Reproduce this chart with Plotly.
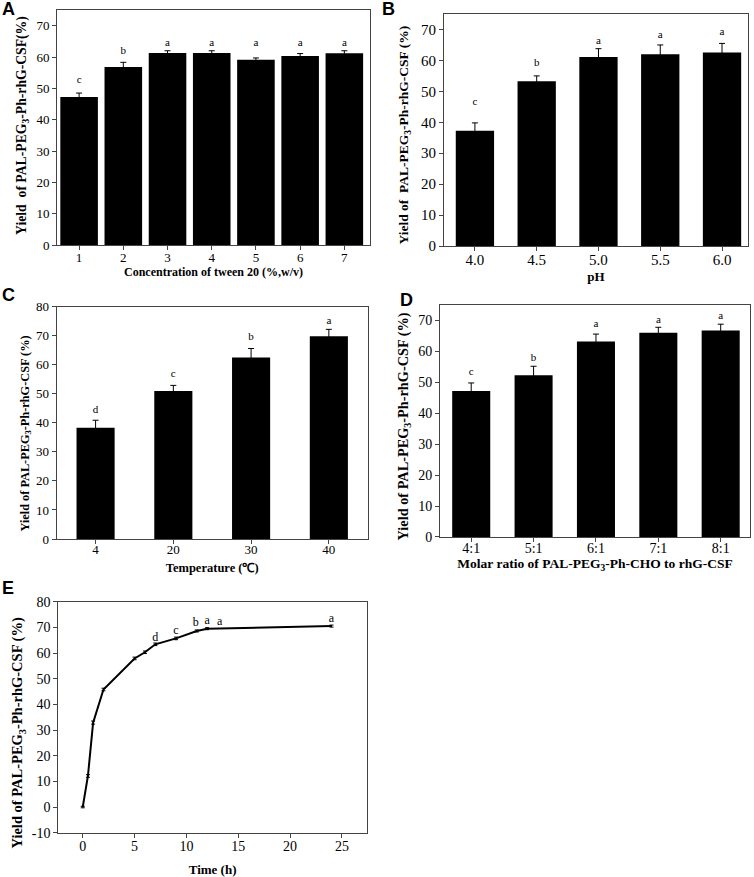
import plotly.graph_objects as go

# A - tween 20 concentration
a_x = [1, 2, 3, 4, 5, 6, 7]
a_y = [47.2, 56.8, 61.3, 61.3, 59.1, 60.3, 61.2]
a_err = [1.3, 1.5, 0.7, 0.7, 0.6, 0.8, 0.8]
a_sig = ['c', 'b', 'a', 'a', 'a', 'a', 'a']
a_sig_y = [52.7, 61.7, 64.4, 64.4, 64.4, 64.4, 64.4]

# B - pH
b_x = ['4.0', '4.5', '5.0', '5.5', '6.0']
b_y = [37.3, 53.3, 61.1, 62.0, 62.6]
b_err = [2.5, 1.7, 2.7, 3.0, 2.9]
b_sig = ['c', 'b', 'a', 'a', 'a']
b_sig_y = [46.5, 59.1, 66.3, 68.2, 69.0]

# C - temperature
c_x = ['4', '20', '30', '40']
c_y = [38.3, 51.0, 62.5, 69.8]
c_err = [2.6, 1.9, 3.1, 2.4]
c_sig = ['d', 'c', 'b', 'a']
c_sig_y = [44.4, 56.8, 69.3, 75.1]

# D - molar ratio
d_x = ['4:1', '5:1', '6:1', '7:1', '8:1']
d_y = [47.2, 52.3, 63.2, 66.0, 66.8]
d_err = [2.6, 2.9, 2.4, 1.8, 2.0]
d_sig = ['c', 'b', 'a', 'a', 'a']
d_sig_y = [53.3, 57.8, 68.9, 70.2, 71.3]

# E - time course
e_x = [0, 0.5, 1, 2, 5, 6, 7, 9, 11, 12, 24]
e_y = [0, 12.1, 32.9, 45.8, 57.9, 60.3, 63.4, 65.7, 68.6, 69.5, 70.5]
e_err = [0.3, 0.5, 0.6, 0.5, 0.5, 0.5, 0.5, 0.5, 0.4, 0.4, 0.4]
e_sig_x = [7.0, 9.0, 10.9, 12.0, 13.2, 24.0]
e_sig_y = [66.0, 68.7, 71.8, 72.6, 72.2, 73.3]
e_sig = ['d', 'c', 'b', 'a', 'a', 'a']
e_yticks = [-10, 0, 10, 20, 30, 40, 50, 60, 70, 80]

serif = "Liberation Serif"
ytitle = "<b>Yield of PAL-PEG<sub>3</sub>-Ph-rhG-CSF (%)</b>"

fig = go.Figure()


def add_bars(x, y, err, sig, sig_y, width, n):
    ax = '' if n == 1 else str(n)
    fig.add_trace(go.Bar(
        x=x, y=y, width=width, marker=dict(color='black', line_width=0),
        error_y=dict(type='data', array=err, color='black', thickness=1, width=3),
        xaxis='x' + ax, yaxis='y' + ax, showlegend=False))
    fig.add_trace(go.Scatter(
        x=x, y=sig_y, text=sig, mode='text', textposition='middle center',
        textfont=dict(family=serif, size=11, color='black'), cliponaxis=False,
        xaxis='x' + ax, yaxis='y' + ax, showlegend=False))


add_bars(a_x, a_y, a_err, a_sig, a_sig_y, 0.85, 1)
add_bars(b_x, b_y, b_err, b_sig, b_sig_y, 0.62, 2)
add_bars(c_x, c_y, c_err, c_sig, c_sig_y, 0.49, 3)
add_bars(d_x, d_y, d_err, d_sig, d_sig_y, 0.61, 4)

fig.add_trace(go.Scatter(
    x=e_x, y=e_y, mode='lines', line=dict(color='black', width=2),
    error_y=dict(type='data', array=e_err, color='black', thickness=1, width=2),
    xaxis='x5', yaxis='y5', showlegend=False))
fig.add_trace(go.Scatter(
    x=e_sig_x, y=e_sig_y, text=e_sig, mode='text', textposition='middle center',
    textfont=dict(family=serif, size=12, color='black'),
    xaxis='x5', yaxis='y5', showlegend=False))

ax_common = dict(showline=True, mirror=True, linecolor='#444', linewidth=1,
                 ticks='outside', ticklen=4, tickcolor='#444', showgrid=False,
                 zeroline=False, automargin=False)


def tfont(size):
    return dict(family=serif, size=size, color='black')


fig.update_layout(
    width=754, height=877, margin=dict(l=0, r=0, t=0, b=0, autoexpand=False),
    plot_bgcolor='white', paper_bgcolor='white',
    xaxis=dict(ax_common, domain=[0.0756, 0.4907], anchor='y', range=[0.5, 7.58],
               tickvals=a_x, tickfont=tfont(13), ticklabelstandoff=-4,
               title=dict(text="<b>Concentration of tween 20 (%,w/v)</b>",
                          standoff=0, font=tfont(12))),
    yaxis=dict(ax_common, domain=[0.7206, 0.9886], anchor='x', range=[0, 75], dtick=10,
               tickfont=tfont(13)),
    xaxis2=dict(ax_common, domain=[0.5889, 0.9920], anchor='y2', type='category',
                range=[-0.5, 4.42], tickfont=tfont(15), ticklabelstandoff=-4,
                title=dict(text="<b>pH</b>", standoff=4, font=tfont(13))),
    yaxis2=dict(ax_common, domain=[0.7195, 0.9840], anchor='x2', range=[0, 75], dtick=10,
                tickfont=tfont(15)),
    xaxis3=dict(ax_common, domain=[0.0752, 0.4877], anchor='y3', type='category',
                range=[-0.5, 3.5], tickfont=tfont(13), ticklabelstandoff=-6,
                title=dict(text="<b>Temperature (℃)</b>", standoff=7, font=tfont(12.5))),
    yaxis3=dict(ax_common, domain=[0.3854, 0.6503], anchor='x3', range=[0, 80], dtick=10,
                tickfont=tfont(13)),
    xaxis4=dict(ax_common, domain=[0.5836, 0.9947], anchor='y4', type='category',
                range=[-0.5, 4.47], tickfont=tfont(14), ticklabelstandoff=-6,
                title=dict(text="<b>Molar ratio of PAL-PEG<sub>3</sub>-Ph-CHO to rhG-CSF</b>",
                           standoff=2, font=tfont(13.5))),
    yaxis4=dict(ax_common, domain=[0.3877, 0.6522], anchor='x4', range=[0, 75], dtick=10,
                tickfont=tfont(14)),
    xaxis5=dict(ax_common, domain=[0.0773, 0.4867], anchor='y5', range=[-2.36, 27.42], dtick=5,
                tickfont=tfont(14), ticklabelstandoff=-4,
                title=dict(text="<b>Time (h)</b>", standoff=12, font=tfont(13))),
    yaxis5=dict(ax_common, domain=[0.0505, 0.3139], anchor='x5', range=[-10, 80],
                tickvals=e_yticks, ticktext=[str(v) for v in e_yticks], tickfont=tfont(14)),
)

# y titles as rotated annotations (they sit a little off the axis centre in the original)
y_titles = [
    ("<b>Yield  of PAL-PEG<sub>3</sub>-Ph-rhG-CSF(%)</b>", 0.0305, 0.8575, 13.7),
    ("<b>Yield of  PAL-PEG<sub>3</sub>-Ph-rhG-CSF (%)</b>", 0.5371, 0.8466, 13.5),
    (ytitle, 0.0332, 0.5057, 12.3),
    (ytitle, 0.5371, 0.5137, 14.3),
    (ytitle, 0.0239, 0.1636, 14.5),
]
for txt, x, y, size in y_titles:
    fig.add_annotation(text=txt, x=x, y=y, xref='paper', yref='paper', textangle=-90,
                       xanchor='center', yanchor='middle', showarrow=False, font=tfont(size))

letter_font = dict(family="Liberation Sans", size=18, color='black')
for txt, x, y in [('A', 0.0, 1.003), ('B', 0.504, 1.003), ('C', 0.0, 0.677),
                  ('D', 0.5279, 0.672), ('E', 0.0, 0.343)]:
    fig.add_annotation(text="<b>" + txt + "</b>", x=x, y=y, xref='paper', yref='paper',
                       xanchor='left', yanchor='top', showarrow=False, font=letter_font)

# the page body has an 8px default margin; drop it so the figure fills the window
fig.write_html("out.html", config={'displayModeBar': False},
               post_script="document.body.style.margin = '0';")
